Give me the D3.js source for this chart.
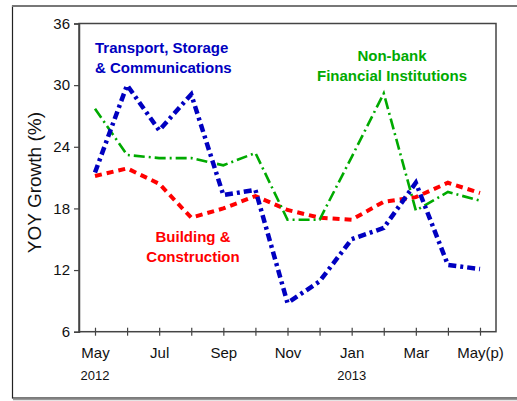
<!DOCTYPE html>
<html>
<head>
<meta charset="utf-8">
<script src="https://cdn.jsdelivr.net/npm/d3@7"></script>
<style>
  body { margin: 0; background: #fff; }
  text { font-family: "Liberation Sans", Arial, sans-serif; }
</style>
</head>
<body>
<svg id="chart"></svg>
<script>
// months May 2012 .. May 2013
let months = ["May", "Jun", "Jul", "Aug", "Sep", "Oct", "Nov", "Dec", "Jan", "Feb", "Mar", "Apr", "May(p)"];
let tickLabels = ["May", "", "Jul", "", "Sep", "", "Nov", "", "Jan", "", "Mar", "", "May(p)"];
let yTicks = [6, 12, 18, 24, 30, 36];

let transport = [21.5, 30.0, 25.6, 29.1, 19.3, 19.8, 8.8, 10.9, 15.0, 16.1, 20.5, 12.5, 12.1];
let nonbank = [27.7, 23.2, 22.9, 22.9, 22.2, 23.4, 16.9, 16.9, 23.0, 29.2, 17.8, 19.6, 18.75];
let building = [21.15, 21.9, 20.4, 17.1, 18.0, 19.2, 17.85, 17.1, 16.9, 18.65, 19.1, 20.5, 19.5];

function draw() {
  let w = 517, h = 401;
  let svg = d3.select("#chart").attr("width", w).attr("height", h);

  // outer frame
  svg.append("rect")
    .attr("x", 12.5).attr("y", 6).attr("width", 520).attr("height", 392)
    .attr("fill", "none").attr("stroke", "#222").attr("stroke-width", 1.2);
  svg.append("line")
    .attr("x1", 12).attr("x2", 517).attr("y1", 6).attr("y2", 6)
    .attr("stroke", "#777").attr("stroke-width", 2);
  svg.append("line")
    .attr("x1", 13).attr("x2", 517).attr("y1", 399.5).attr("y2", 399.5)
    .attr("stroke", "#999").attr("stroke-width", 1.5);

  let x = d3.scalePoint().domain(d3.range(months.length)).range([95, 480]);
  let y = d3.scaleLinear().domain([6, 36]).range([331.7, 23.5]);

  // plot box
  svg.append("rect")
    .attr("x", 79).attr("y", y(36)).attr("width", 496 - 79).attr("height", y(6) - y(36))
    .attr("fill", "none").attr("stroke", "#444").attr("stroke-width", 1.5);

  let yAxis = svg.append("g")
    .attr("transform", "translate(79,0)")
    .call(d3.axisLeft(y).tickValues(yTicks).tickSize(5).tickPadding(4));
  yAxis.select(".domain").attr("stroke", "#444").attr("stroke-width", 1.5);
  yAxis.selectAll(".tick line").attr("stroke", "#444").attr("stroke-width", 1.2);
  yAxis.selectAll("text").attr("font-size", 15).attr("fill", "#111")
    .style("font-family", "Liberation Sans, Arial, sans-serif");

  let xAxis = svg.append("g")
    .attr("transform", "translate(0," + y(6) + ")")
    .call(d3.axisBottom(x).tickFormat(i => tickLabels[i]).tickSize(4).tickPadding(12));
  xAxis.select(".domain").remove();
  xAxis.selectAll(".tick line").attr("y1", -4).attr("stroke", "#444").attr("stroke-width", 1.2);
  xAxis.selectAll("text").attr("font-size", 15).attr("fill", "#111")
    .style("font-family", "Liberation Sans, Arial, sans-serif");

  svg.append("text").attr("x", x(0)).attr("y", 380).attr("text-anchor", "middle")
    .attr("font-size", 13).attr("fill", "#111").text("2012");
  svg.append("text").attr("x", x(8)).attr("y", 380).attr("text-anchor", "middle")
    .attr("font-size", 13).attr("fill", "#111").text("2013");

  svg.append("text")
    .attr("transform", "translate(41," + ((y(36) + y(6)) / 2 + 5) + ") rotate(-90)")
    .attr("text-anchor", "middle").attr("font-size", 19).attr("fill", "#111")
    .text("YOY Growth (%)");

  let line = d3.line().x((d, i) => x(i)).y(d => y(d));

  let series = [
    { data: building, color: "#ff0000", width: 4, dash: "7,5" },
    { data: nonbank, color: "#00aa00", width: 2.6, dash: "11,4,2,4" },
    { data: transport, color: "#0000c0", width: 4.5, dash: "8,4,3,4" }
  ];

  svg.selectAll(".series")
    .data(series)
    .enter()
    .append("path")
    .attr("class", "series")
    .attr("d", d => line(d.data))
    .attr("fill", "none")
    .attr("stroke", d => d.color)
    .attr("stroke-width", d => d.width)
    .attr("stroke-dasharray", d => d.dash)
    .attr("stroke-linejoin", "miter");

  let labels = [
    { lines: ["Transport, Storage", "& Communications"], x: 95, y: 53, anchor: "start", color: "#0000c0" },
    { lines: ["Non-bank", "Financial Institutions"], x: 392, y: 61, anchor: "middle", color: "#00aa00" },
    { lines: ["Building &", "Construction"], x: 193, y: 242, anchor: "middle", color: "#ff0000" }
  ];

  labels.forEach(l => {
    let t = svg.append("text")
      .attr("x", l.x).attr("y", l.y)
      .attr("text-anchor", l.anchor)
      .attr("font-size", 15).attr("font-weight", "bold")
      .attr("fill", l.color);
    l.lines.forEach((s, i) => {
      t.append("tspan").attr("x", l.x).attr("dy", i == 0 ? 0 : 19.5).text(s);
    });
  });
}

window.onload = function() {
  draw();
}
</script>
</body>
</html>
